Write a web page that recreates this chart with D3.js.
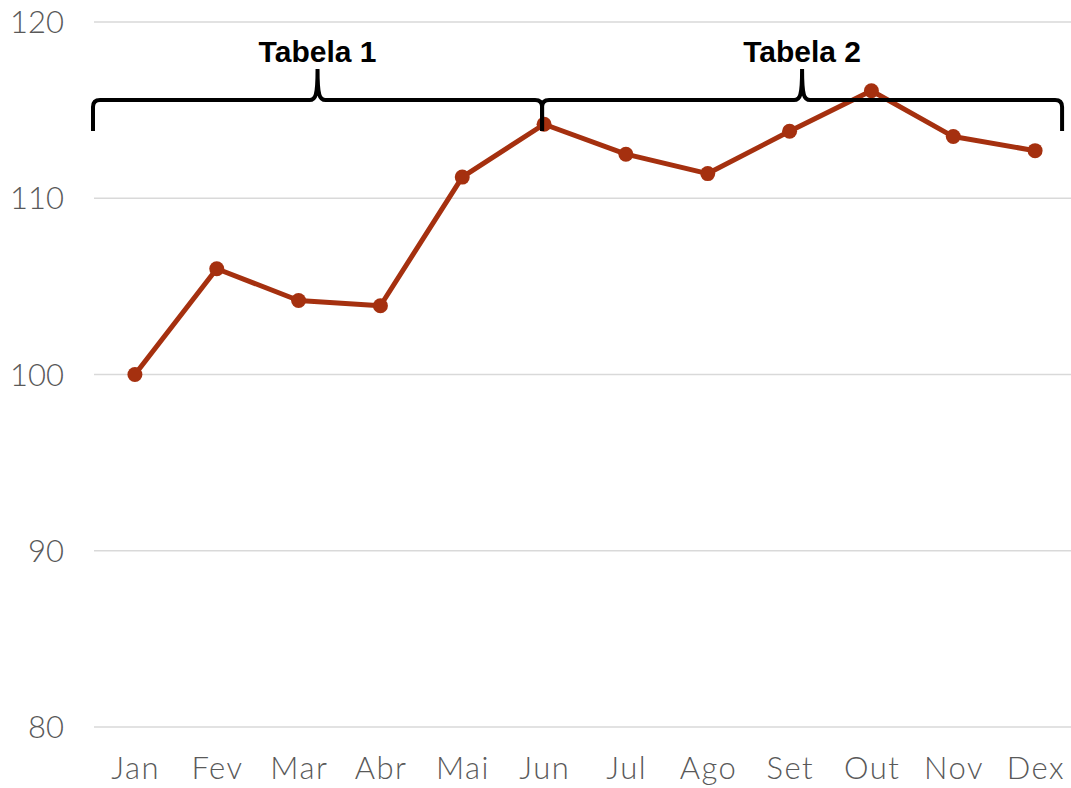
<!DOCTYPE html>
<html>
<head>
<meta charset="utf-8">
<script src="https://cdn.jsdelivr.net/npm/d3@7"></script>
<style>
  body { margin: 0; background: #fff; }
  svg { display: block; }
</style>
</head>
<body>
<svg width="1071" height="788"></svg>
<script>
// data
var months = ["Jan", "Fev", "Mar", "Abr", "Mai", "Jun", "Jul", "Ago", "Set", "Out", "Nov", "Dex"];
var values = [100, 106.0, 104.2, 103.9, 111.2, 114.2, 112.5, 111.4, 113.8, 116.1, 113.5, 112.7];
var yTicks = [80, 90, 100, 110, 120];
var braceNames = ["Tabela 1", "Tabela 2"];
var braceFrom = ["Jan", "Jun"];
var braceTo = ["Jun", "Dex"];

var width = 1071, height = 788;
var svg = d3.select("svg");

var x = d3.scaleBand()
    .domain(months)
    .range([94, 1076]);

var y = d3.scaleLinear()
    .domain([80, 120])
    .range([727, 22]);

var bw = x.bandwidth();
var cx = function(m) { return x(m) + bw / 2; };

// gridlines
svg.append("g")
    .selectAll("line")
    .data(yTicks)
    .enter()
    .append("line")
    .attr("x1", 94)
    .attr("x2", width)
    .attr("y1", function(d){ return y(d); })
    .attr("y2", function(d){ return y(d); })
    .attr("stroke", "#d9d9d9")
    .attr("stroke-width", 1.5);

// y labels
svg.append("g")
    .selectAll("text")
    .data(yTicks)
    .enter()
    .append("text")
    .attr("x", 64)
    .attr("y", function(d){ return y(d); })
    .attr("dy", "0.36em")
    .attr("text-anchor", "end")
    .attr("font-family", "Lato, 'Open Sans', sans-serif")
    .attr("font-weight", 300)
    .attr("font-size", 31)
    .attr("fill", "#595959")
    .text(function(d){ return d; });

// x labels
svg.append("g")
    .selectAll("text")
    .data(months)
    .enter()
    .append("text")
    .attr("x", function(d){ return cx(d) + 0.75; })
    .attr("y", 779)
    .attr("text-anchor", "middle")
    .attr("font-family", "Lato, 'Open Sans', sans-serif")
    .attr("font-weight", 300)
    .attr("font-size", 31)
    .attr("letter-spacing", 1.5)
    .attr("fill", "#595959")
    .text(function(d){ return d; });

// line
var line = d3.line()
    .x(function(d, i){ return cx(months[i]); })
    .y(function(d){ return y(d); });

svg.append("path")
    .datum(values)
    .attr("d", line)
    .attr("fill", "none")
    .attr("stroke", "#a5300f")
    .attr("stroke-width", 5)
    .attr("stroke-linejoin", "round");

svg.append("g")
    .selectAll("circle")
    .data(values)
    .enter()
    .append("circle")
    .attr("cx", function(d, i){ return cx(months[i]); })
    .attr("cy", function(d){ return y(d); })
    .attr("r", 7.5)
    .attr("fill", "#a5300f");

// braces
function bracePath(x0, x1) {
  var m = (x0 + x1) / 2, top = 100, bot = 131, tip = 69;
  return "M" + x0 + "," + bot +
    " L" + x0 + "," + (top + 7) +
    " Q" + x0 + "," + top + " " + (x0 + 7) + "," + top +
    " L" + (m - 8) + "," + top +
    " C" + (m - 2) + "," + top + " " + m + "," + (top - 4) + " " + m + "," + tip +
    " C" + m + "," + (top - 4) + " " + (m + 2) + "," + top + " " + (m + 8) + "," + top +
    " L" + (x1 - 7) + "," + top +
    " Q" + x1 + "," + top + " " + x1 + "," + (top + 7) +
    " L" + x1 + "," + bot;
}

var braces = braceNames.map(function(name, i) {
  var x0 = braceFrom[i] === "Jan" ? x(braceFrom[i]) - 1 : cx(braceFrom[i]) - 2;
  var x1 = braceTo[i] === "Dex" ? cx(braceTo[i]) + 27 : cx(braceTo[i]) - 2;
  return { name: name, x0: x0, x1: x1 };
});

var bg = svg.append("g");

bg.selectAll("path")
    .data(braces)
    .enter()
    .append("path")
    .attr("d", function(d){ return bracePath(d.x0, d.x1); })
    .attr("fill", "none")
    .attr("stroke", "#000")
    .attr("stroke-width", 4);

bg.selectAll("text")
    .data(braces)
    .enter()
    .append("text")
    .attr("x", function(d){ return (d.x0 + d.x1) / 2; })
    .attr("y", 62)
    .attr("text-anchor", "middle")
    .attr("font-family", "'Liberation Sans', Arial, sans-serif")
    .attr("font-weight", "bold")
    .attr("font-size", 30)
    .attr("fill", "#000")
    .text(function(d){ return d.name; });
</script>
</body>
</html>
